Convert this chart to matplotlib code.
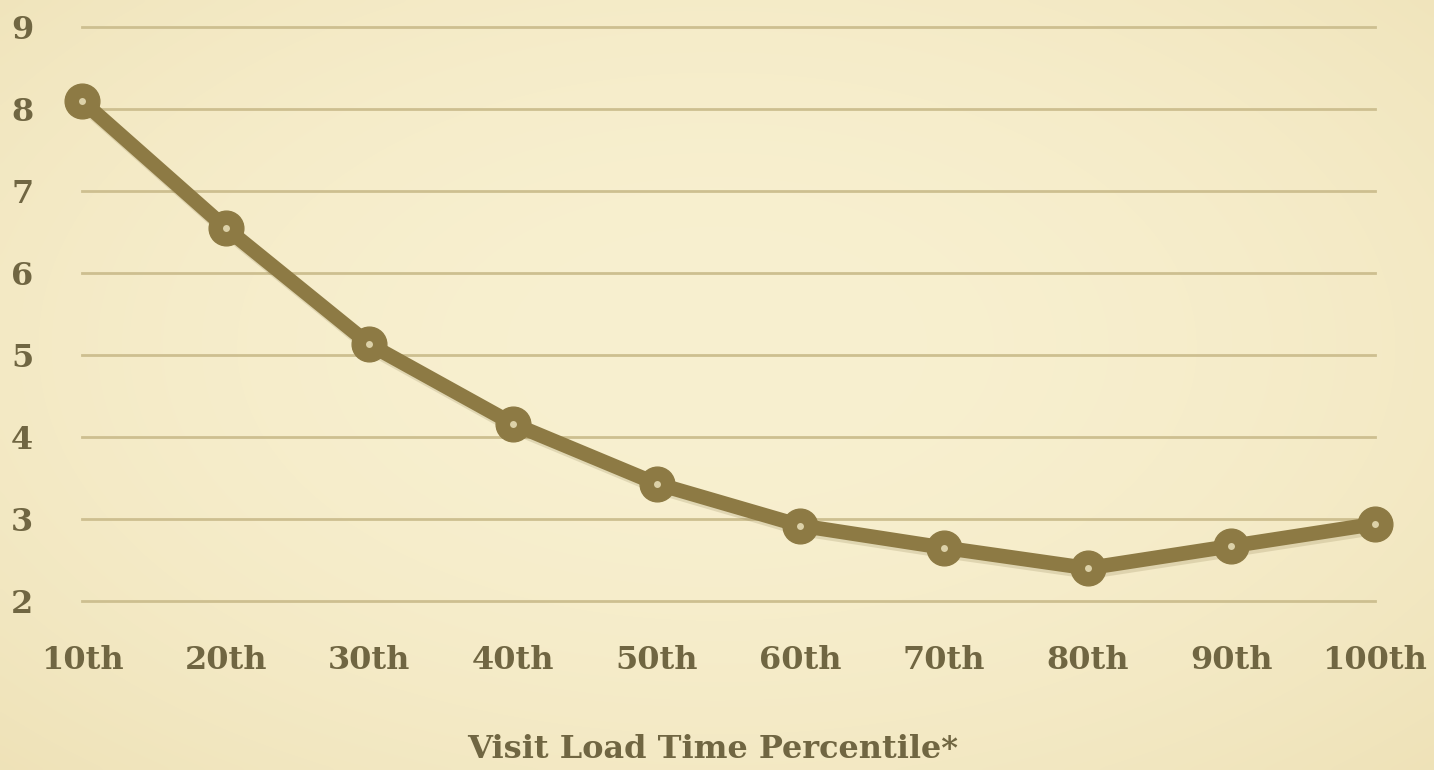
import numpy as np
import matplotlib
matplotlib.use("Agg")
import matplotlib.pyplot as plt
import matplotlib.patheffects as pe

# Data
percentiles = ["10th", "20th", "30th", "40th", "50th", "60th", "70th", "80th", "90th", "100th"]
load_time = [8.1, 6.55, 5.13, 4.16, 3.43, 2.92, 2.65, 2.40, 2.67, 2.94]
y_ticks = [2, 3, 4, 5, 6, 7, 8, 9]

line_color = "#8d7a44"
grid_color = "#cdbf90"
text_color = "#706642"

plt.rcParams["font.family"] = ["DejaVu Serif"]

W, H, DPI = 1434, 770, 100
fig = plt.figure(figsize=(W / DPI, H / DPI), dpi=DPI)

# Parchment background with a soft vignette
bg = fig.add_axes([0, 0, 1, 1], zorder=0)
yy, xx = np.mgrid[0:1:200j, 0:1:370j]
r = np.sqrt(((xx - 0.5) / 0.75) ** 2 + ((yy - 0.45) / 0.8) ** 2)
t = np.clip(r, 0, 1) ** 2
c_center = np.array([0xf8, 0xf0, 0xd0]) / 255
c_edge = np.array([0xee, 0xe1, 0xb6]) / 255
img = c_center[None, None, :] * (1 - t[..., None]) + c_edge[None, None, :] * t[..., None]
bg.imshow(img, aspect="auto", extent=[0, 1, 0, 1], interpolation="bicubic")
bg.set_axis_off()

left, right = 82 / W, 1375 / W
bottom, top = (H - 601) / H, (H - 27) / H
ax = fig.add_axes([left, bottom, right - left, top - bottom], zorder=1)
ax.patch.set_alpha(0)

x = np.arange(len(percentiles))
ax.set_xlim(x[0], x[-1])
ax.set_ylim(2, 9)

for v in y_ticks:
    ax.axhline(v, color=grid_color, lw=2.0, zorder=1, clip_on=False)

shadow = [pe.SimpleLineShadow(offset=(1.5, -2.5), shadow_color="#7a6a3a", alpha=0.18), pe.Normal()]
ax.plot(x, load_time, color=line_color, lw=10.5, solid_capstyle="round",
        solid_joinstyle="round", clip_on=False, zorder=3, path_effects=shadow)
ax.plot(x, load_time, linestyle="none", marker="o", markersize=25,
        markerfacecolor=line_color, markeredgecolor=line_color, clip_on=False, zorder=4)
ax.plot(x, load_time, linestyle="none", marker="o", markersize=5,
        markerfacecolor="#dcd1a8", markeredgecolor="none", clip_on=False, zorder=5)

ax.set_xticks(x)
ax.set_xticklabels(percentiles)
ax.set_yticks(y_ticks)
ax.set_yticklabels([str(v) for v in y_ticks])
ax.tick_params(axis="both", length=0, labelsize=23, colors=text_color)
ax.tick_params(axis="x", pad=32)
ax.tick_params(axis="y", pad=35)
for lab in ax.get_xticklabels() + ax.get_yticklabels():
    lab.set_fontweight("bold")
for s in ax.spines.values():
    s.set_visible(False)

ax.set_xlabel("Visit Load Time Percentile*", fontsize=23, fontweight="bold",
              color=text_color)
ax.xaxis.set_label_coords(0.488, -0.232)

fig.savefig("out.png", dpi=DPI)
